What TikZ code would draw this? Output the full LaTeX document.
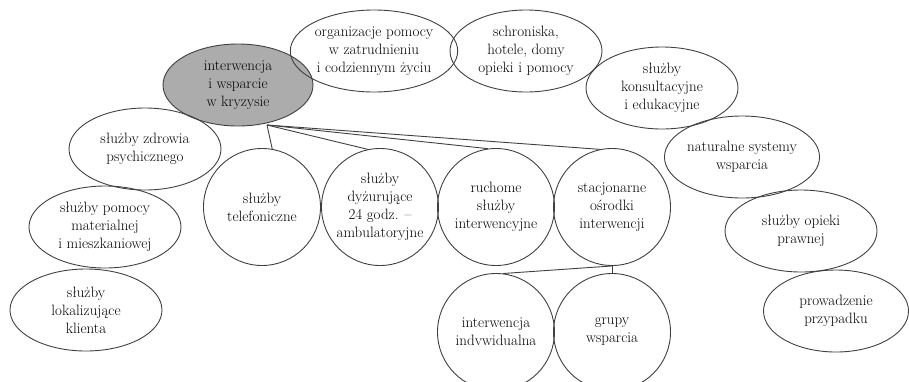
\documentclass[tikz,border=0pt]{standalone}
\usepackage{fontspec}
\usetikzlibrary{shapes.geometric}

\tikzset{
  usluga/.style={draw=black!75, line width=0.9pt, ellipse, minimum width=152pt,
    minimum height=82pt, inner sep=0pt, align=center,
    font=\fontsize{15}{18}\selectfont},
  glowny/.style={usluga, minimum width=150pt, fill=gray!65},
  kolo/.style={usluga, circle, minimum size=117pt},
  linia/.style={draw=black!75, line width=0.9pt}
}

\begin{document}
\begin{tikzpicture}[x=1pt,y=-1pt]
\useasboundingbox (0,0) rectangle (909,381);

% centre
\node[glowny] (kryzys) at (238,85) {interwencja\\ i wsparcie\\ w kryzysie};
\coordinate (hub) at (267,125);

% upper arc
\node[usluga] (organ) at (374,51) {organizacje pomocy\\ w zatrudnieniu\\ i codziennym życiu};
\node[usluga] (schron) at (526,51) {schroniska,\\ hotele, domy\\ opieki i pomocy};
\node[usluga] (konsul) at (662,88) {służby\\ konsultacyjne\\ i edukacyjne};
\node[usluga] (natur) at (742,157) {naturalne systemy\\ wsparcia};
\node[usluga] (prawna) at (801,231) {służby opieki\\ prawnej};
\node[usluga, minimum width=145pt] (przyp) at (836,311) {prowadzenie\\ przypadku};

% left side
\node[usluga] (zdrow) at (145,149) {służby zdrowia\\ psychicznego};
\node[usluga] (mater) at (105,227) {służby pomocy\\ materialnej\\ i mieszkaniowej};
\node[usluga] (lokal) at (86,310) {służby\\ lokalizujące\\ klienta};

% circles
\node[kolo] (tel) at (262,207) {służby\\ telefoniczne};
\node[kolo] (dyz) at (380,207) {służby\\ dyżurujące\\ 24 godz. --\\ ambulatoryjne};
\node[kolo] (ruch) at (496,207) {ruchome\\ służby\\ interwencyjne};
\node[kolo] (stac) at (612,207) {stacjonarne\\ ośrodki\\ interwencji};
\node[kolo] (indyw) at (496,332) {interwencja\\ indvwidualna};
\node[kolo] (grupy) at (612,332) {grupy\\ wsparcia};

\foreach \n/\a in {tel/80,dyz/102,ruch/98,stac/102}
  \draw[linia] (hub) -- (\n.\a);
\draw[linia] (stac.south) -- (grupy.north);
\draw[linia] (stac.south) -- (indyw.83);
\end{tikzpicture}
\end{document}
